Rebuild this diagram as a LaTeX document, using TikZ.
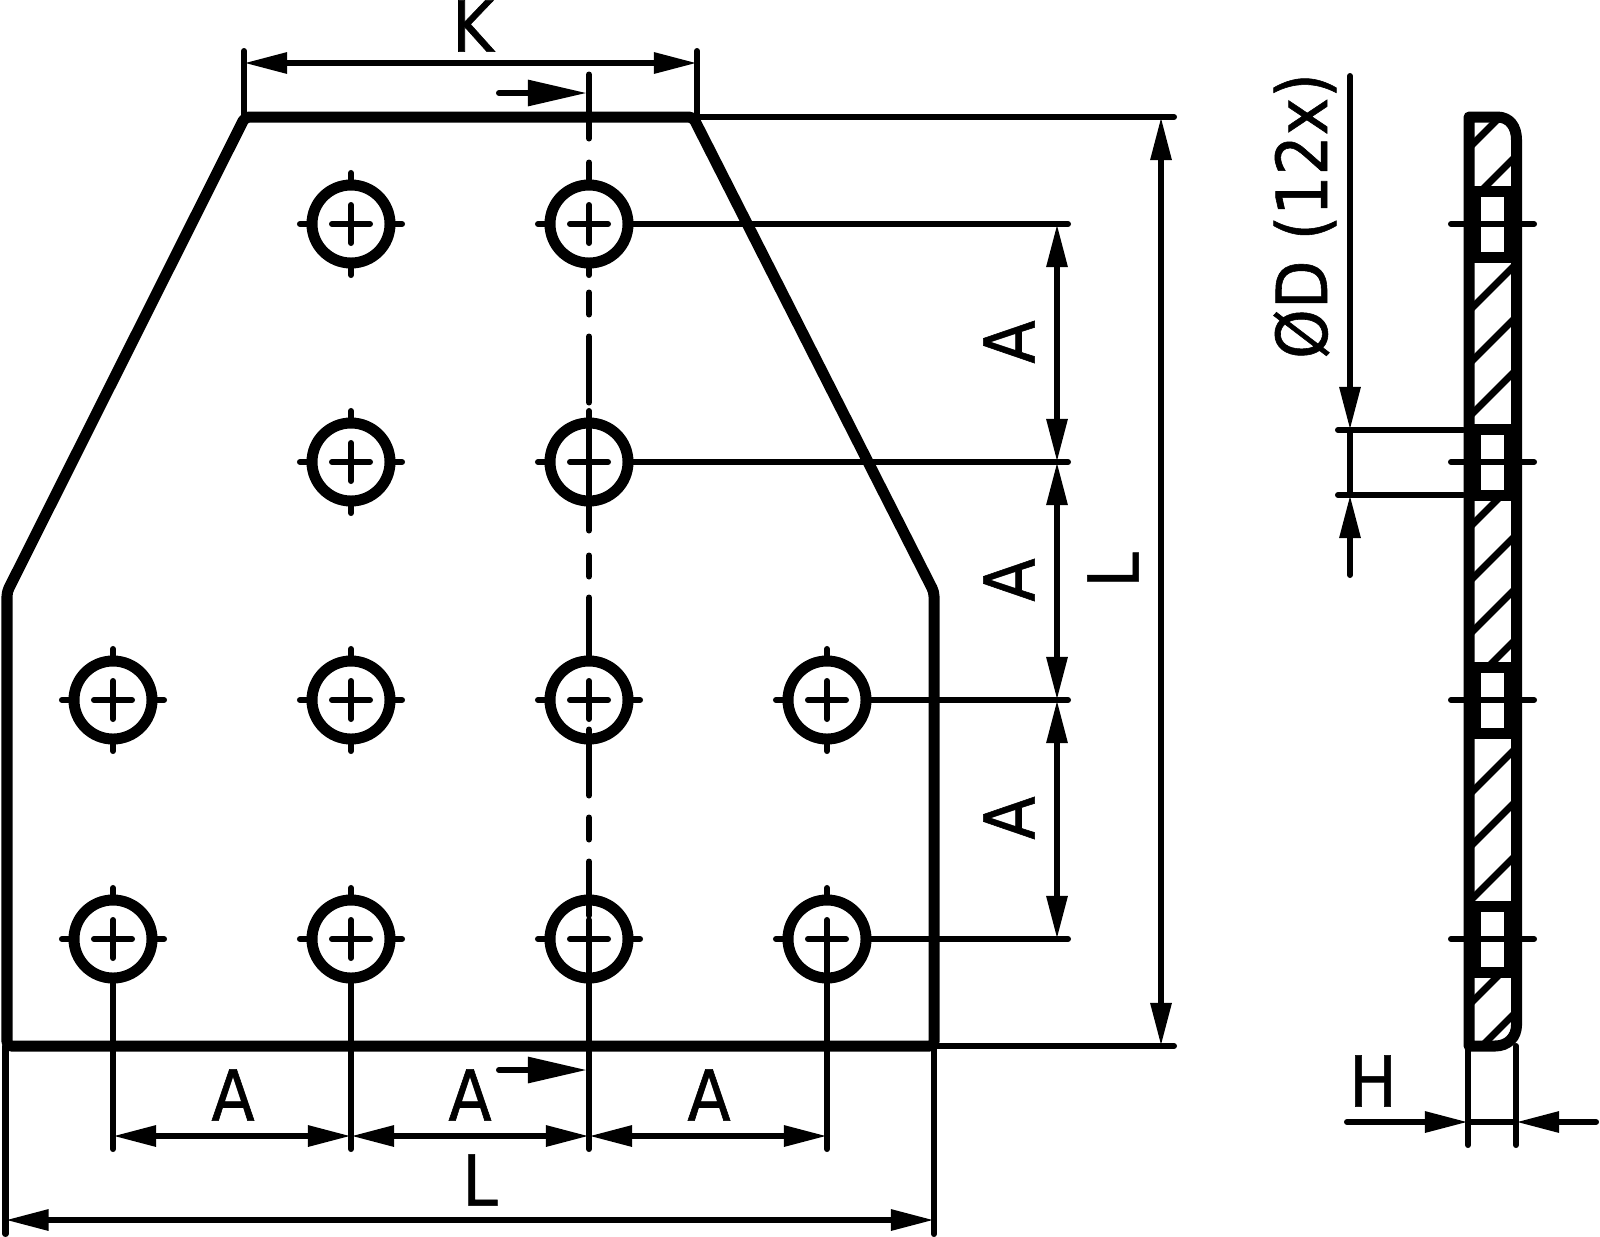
\documentclass[tikz,border=0pt]{standalone}
\usepackage{fontspec}
\setmainfont[RawFeature={embolden=0.8}]{DejaVu Sans Condensed}
\usetikzlibrary{arrows.meta}

\tikzset{
  outline/.style={line width=0.11cm,line join=round,line cap=round},
  fineline/.style={line width=0.06cm,line cap=round},
  hatchline/.style={line width=0.07cm},
  dimline/.style={fineline,{Triangle[length=0.43cm,width=0.2cm]}-{Triangle[length=0.43cm,width=0.2cm]}},
  dimhalf/.style={fineline,-{Triangle[length=0.43cm,width=0.2cm]}},
  sectarrow/.style={fineline,-{Triangle[length=0.59cm,width=0.25cm]}},
  lbl/.style={font=\fontsize{20}{24}\selectfont,inner sep=0pt}
}

\begin{document}
\begin{tikzpicture}[x=0.01cm,y=-0.01cm]

      \useasboundingbox (0,0) rectangle (1600,1236);

      % plate
      \draw[outline,rounded corners=1.2pt] (245,117) -- (693,117) -- (934,592) -- (934,1046)
        -- (7,1046) -- (7,592) -- cycle;

      % holes
      \begin{scope}[every node/.style={circle,draw,line width=0.11cm,minimum size=0.78cm,inner sep=0pt,outer sep=0pt}]
        \node (h21) at (351,224) {};
        \node (h31) at (589,224) {};
        \node (h22) at (351,462) {};
        \node (h32) at (589,462) {};
        \node (h13) at (113,700) {};
        \node (h23) at (351,700) {};
        \node (h33) at (589,700) {};
        \node (h43) at (827,700) {};
        \node (h14) at (113,939) {};
        \node (h24) at (351,939) {};
        \node (h34) at (589,939) {};
        \node (h44) at (827,939) {};
      \end{scope}

      \foreach \h in {h21,h31,h22,h32,h13,h23,h33,h43,h14,h24,h34,h44} {
        \draw[fineline] (\h.center) ++(-19,0) -- ++(38,0);
        \draw[fineline] (\h.center) ++(0,-19) -- ++(0,38);
        \draw[fineline] (\h.west) -- ++(-12,0);
        \draw[fineline] (\h.east) -- ++(12,0);
        \draw[fineline] (\h.north) -- ++(0,-12);
        \draw[fineline] (\h.south) -- ++(0,12);
      }

      % section line
      \foreach \a/\b in {72/141,160/185,290/317,334/405,410/533,553/579,595/660,727/798,815/842,859/918} {
        \draw[fineline] (589,\a+2.5) -- (589,\b-2.5);
      }
      \coordinate (st) at (499,93);
      \coordinate (se) at (587,93);
      \coordinate (bt) at (499,1070);
      \coordinate (be) at (587,1070);
      \draw[sectarrow] (st) -- (se);
      \draw[sectarrow] (bt) -- (be);

      % bottom dimensions
      \coordinate (e1) at (113,1149);
      \coordinate (e2) at (351,1149);
      \coordinate (e3) at (589,1149);
      \coordinate (e4) at (827,1149);
      \coordinate (d1) at (113,1136);
      \coordinate (d2) at (351,1136);
      \coordinate (d3) at (589,1136);
      \coordinate (d4) at (827,1136);
      \draw[fineline] (h14.south) -- (e1);
      \draw[fineline] (h24.south) -- (e2);
      \draw[fineline] (h34.center) -- (e3);
      \draw[fineline] (h44.center) -- (e4);
      \draw[dimline] (d1) -- (d2);
      \draw[dimline] (d2) -- (d3);
      \draw[dimline] (d3) -- (d4);

      \coordinate (wl) at (5.5,1046);
      \coordinate (wr) at (934,1046);
      \coordinate (wle) at (5.5,1234);
      \coordinate (wre) at (934,1234);
      \coordinate (wld) at (5.5,1220);
      \coordinate (wrd) at (934,1220);
      \draw[fineline] (wl) -- (wle);
      \draw[fineline] (wr) -- (wre);
      \draw[dimline] (wld) -- (wrd);

      % top dimension
      \coordinate (kl) at (244,117);
      \coordinate (kr) at (697,117);
      \coordinate (kle) at (244,51);
      \coordinate (kre) at (697,51);
      \coordinate (kld) at (244,63);
      \coordinate (krd) at (697,63);
      \draw[fineline] (kl) -- (kle);
      \draw[fineline] (kr) -- (kre);
      \draw[dimline] (kld) -- (krd);

      % right dimensions
      \coordinate (r1) at (1068,224);
      \coordinate (r2) at (1068,462);
      \coordinate (r3) at (1068,700);
      \coordinate (r4) at (1068,939);
      \coordinate (a1) at (1057,224);
      \coordinate (a2) at (1057,462);
      \coordinate (a3) at (1057,700);
      \coordinate (a4) at (1057,939);
      \draw[fineline] (h31.east) -- (r1);
      \draw[fineline] (h32.east) -- (r2);
      \draw[fineline] (h43.east) -- (r3);
      \draw[fineline] (h44.east) -- (r4);
      \draw[dimline] (a1) -- (a2);
      \draw[dimline] (a2) -- (a3);
      \draw[dimline] (a3) -- (a4);

      \coordinate (ht) at (1174,117);
      \coordinate (hb) at (1174,1046);
      \coordinate (hdt) at (1161,117);
      \coordinate (hdb) at (1161,1046);
      \draw[fineline] (kr) -- (ht);
      \draw[fineline] (wr) -- (hb);
      \draw[dimline] (hdt) -- (hdb);

      % side view
      \begin{scope}
        \clip (1474,117) rectangle (1511,191) (1474,257) rectangle (1511,430)
          (1474,495) rectangle (1511,668) (1474,733) rectangle (1511,906)
          (1474,972) rectangle (1511,1046);
        \foreach \y in {143,198,306,359,412,523,577,630,681,790,843,897,1000,1054} {
          \draw[hatchline] (1468,\y+6) -- ++(50,-50);
        }
      \end{scope}
      \foreach \y in {224,462,700,939} {
        \draw[line width=0.07cm] (1477,\y-33) rectangle (1507.5,\y+33);
        \draw[outline] (1474,\y-33) -- (1511,\y-33);
        \draw[outline] (1474,\y+33) -- (1511,\y+33);
        \draw[fineline] (1451,\y) -- (1534,\y);
      }
      \draw[outline] (1469,1046) -- (1469,117) -- (1497,117)
        .. controls (1510,117) and (1516.5,127) .. (1516.5,140) -- (1516.5,1025)
        .. controls (1516.5,1037) and (1508,1046) .. (1495,1046) -- cycle;

      % bore dimension
      \coordinate (bu) at (1338,430);
      \coordinate (bl) at (1338,495);
      \coordinate (bue) at (1463,430);
      \coordinate (ble) at (1463,495);
      \coordinate (bt1) at (1350,76);
      \coordinate (bd1) at (1350,430);
      \coordinate (bt2) at (1350,575);
      \coordinate (bd2) at (1350,495);
      \draw[fineline] (bu) -- (bue);
      \draw[fineline] (bl) -- (ble);
      \draw[dimhalf] (bt1) -- (bd1);
      \draw[dimhalf] (bt2) -- (bd2);
      \draw[fineline] (bd1) -- (bd2);

      % thickness dimension
      \coordinate (tl) at (1468,1046);
      \coordinate (tr) at (1516,1046);
      \coordinate (tle) at (1468,1145);
      \coordinate (tre) at (1516,1145);
      \coordinate (tls) at (1347,1122);
      \coordinate (tld) at (1468,1122);
      \coordinate (trs) at (1596,1122);
      \coordinate (trd) at (1516,1122);
      \draw[fineline] (tl) -- (tle);
      \draw[fineline] (tr) -- (tre);
      \draw[dimhalf] (tls) -- (tld);
      \draw[dimhalf] (trs) -- (trd);
      \draw[fineline] (tld) -- (trd);

      % labels
      \begin{scope}[every node/.style={lbl}]
        \node (lk) at (473,26) {K};
        \node (la1) at (233,1095) {A};
        \node (la2) at (470,1095) {A};
        \node (la3) at (709,1095) {A};
        \node (ll1) at (480,1180) {L};
        \node[rotate=90] (ll2) at (1113,570) {L};
        \node[rotate=90] (la4) at (1009,342) {A};
        \node[rotate=90] (la5) at (1009,580) {A};
        \node[rotate=90] (la6) at (1009,818) {A};
        \node (lh) at (1373,1081) {H};
        \node[rotate=90,anchor=base] (ld) at (1327,216) {ØD (12x)};
      \end{scope}

    \end{tikzpicture}
\end{document}
